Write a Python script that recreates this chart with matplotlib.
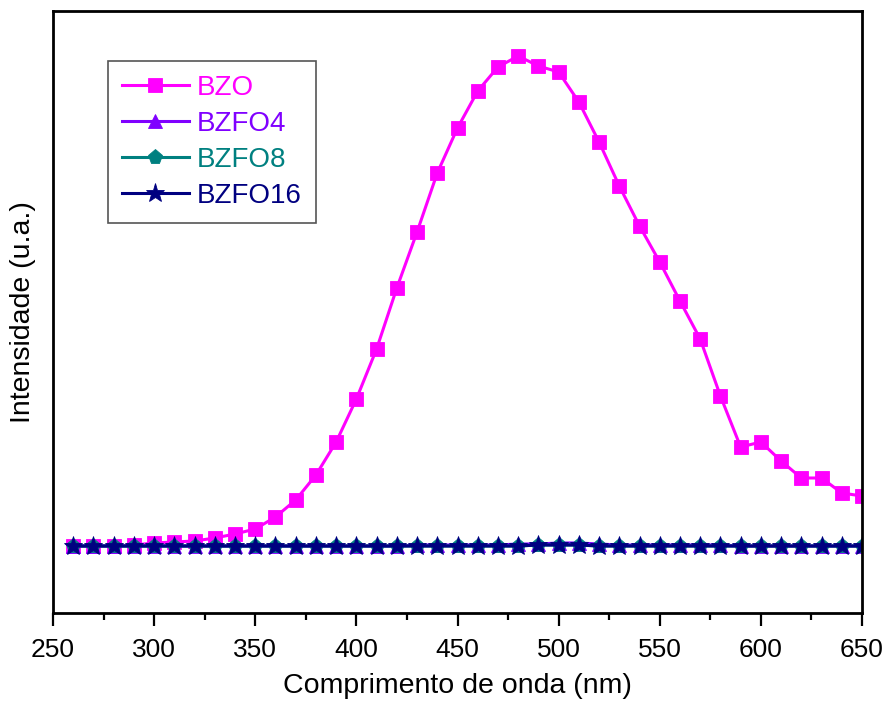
import matplotlib
matplotlib.use("Agg")
import matplotlib.pyplot as plt
from matplotlib.ticker import MultipleLocator

plt.rcParams['font.family'] = ['Liberation Sans', 'DejaVu Sans']

wavelength = list(range(260, 651, 10))

bzo = [67, 67, 67, 68, 70, 71, 72, 75, 79, 84,
       96, 113, 138, 171, 214, 264, 325, 381, 440, 485,
       522, 546, 557, 547, 541, 511, 471, 427, 387, 351,
       312, 274, 217, 166, 171, 152, 135, 135, 120, 117]

bzfo4 = [67, 67, 67, 67, 67, 67, 67, 67, 67, 67,
         67, 67, 67, 67, 67, 67, 67, 68, 68, 68,
         68, 68, 69, 69, 70, 70, 69, 68, 68, 68,
         68, 68, 68, 67, 67, 67, 67, 67, 67, 67]

bzfo8 = [67, 67, 67, 67, 67, 67, 67, 67, 67, 67,
         67, 67, 67, 67, 67, 67, 67, 67, 67, 67,
         67, 67, 67, 68, 68, 68, 67, 67, 67, 67,
         67, 67, 67, 67, 67, 67, 67, 67, 67, 67]

bzfo16 = [67, 67, 67, 67, 67, 67, 67, 67, 67, 67,
          67, 67, 67, 67, 67, 67, 67, 67, 67, 67,
          67, 67, 67, 68, 68, 68, 67, 67, 67, 67,
          67, 67, 67, 67, 67, 67, 67, 67, 67, 67]

series = [
    ("BZO", bzo, "#FF00FF", "s", 10),
    ("BZFO4", bzfo4, "#8000FF", "^", 10),
    ("BZFO8", bzfo8, "#008080", "p", 11),
    ("BZFO16", bzfo16, "#000080", "*", 14),
]

fig = plt.figure(figsize=(8.88, 7.04), dpi=100)
ax = fig.add_axes([53 / 888, 1 - 613 / 704, 809 / 888, 602 / 704])

for name, vals, color, marker, ms in series:
    ax.plot(wavelength, vals, color=color, marker=marker, markersize=ms,
            linewidth=2.2, markeredgewidth=0.6, markeredgecolor=color,
            label=name)

ax.set_xlim(250, 650)
ax.set_ylim(0, 602)
ax.xaxis.set_major_locator(MultipleLocator(50))
ax.xaxis.set_minor_locator(MultipleLocator(25))
ax.set_yticks([])
ax.tick_params(axis='x', which='major', direction='out', length=9, width=1.6,
               labelsize=19, pad=9)
ax.tick_params(axis='x', which='minor', direction='out', length=5, width=1.6)
for sp in ax.spines.values():
    sp.set_linewidth(2.0)

ax.set_xlabel("Comprimento de onda (nm)", fontsize=20.5, labelpad=8)
ax.set_ylabel("Intensidade (u.a.)", fontsize=20.5, labelpad=12)

leg = ax.legend(loc='upper left', bbox_to_anchor=(0.068, (613 - 61) / 602),
                borderaxespad=0, fontsize=20, labelcolor='linecolor',
                fancybox=False, framealpha=1, edgecolor='#555555',
                handlelength=2.4, handletextpad=0.3, labelspacing=0.36,
                borderpad=0.5)
leg.get_frame().set_linewidth(1.2)

fig.savefig("out.png", dpi=100)
